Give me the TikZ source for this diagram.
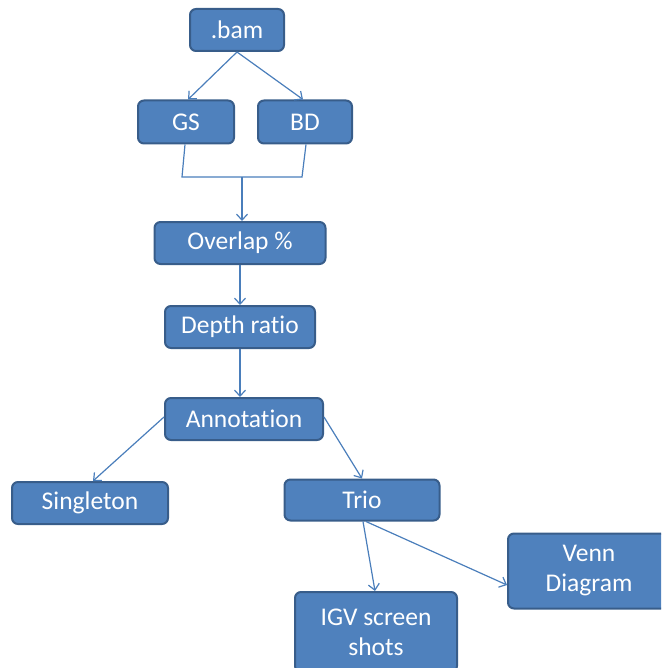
\documentclass[tikz,border=0pt]{standalone}
\usepackage{fontspec}
\setmainfont[Ligatures=NoCommon]{Carlito}
\usetikzlibrary{arrows.meta}
\definecolor{boxfill}{HTML}{4F81BD}
\definecolor{boxdraw}{HTML}{385D8A}
\definecolor{arrcol}{HTML}{4A7EBB}
\tikzset{
  box/.style={draw=boxdraw, line width=2pt, fill=boxfill, rounded corners=6pt,
    text=white, align=center, inner sep=0pt,
    font=\fontsize{25.5}{30}\selectfont},
  arr/.style={draw=arrcol, line width=1.2pt, -{Straight Barb[length=6pt,width=11pt,line width=1.2pt]}},
  ln/.style={draw=arrcol, line width=1.2pt}
}
\begin{document}
\begin{tikzpicture}[x=1pt,y=-1pt]
\useasboundingbox (0,0) rectangle (661,668);
\clip (0,0) rectangle (661,668);
\node[box, minimum width=94pt, minimum height=42pt] (bam) at (237,30) {.bam};
\node[box, minimum width=96pt, minimum height=43pt] (gs) at (186,122) {GS};
\node[box, minimum width=94pt, minimum height=43pt] (bd) at (305,122) {BD};
\node[box, minimum width=171pt, minimum height=42pt] (ov) at (240,243) {Overlap \%};
\node[box, minimum width=150pt, minimum height=42pt] (dr) at (240,327) {Depth ratio};
\node[box, minimum width=158pt, minimum height=42pt] (an) at (244,419) {Annotation};
\node[box, minimum width=156pt, minimum height=42pt] (sg) at (90,503) {Singleton};
\node[box, minimum width=155pt, minimum height=41pt] (tr) at (362,500) {Trio};
\node[box, minimum width=162pt, minimum height=75pt] (vn) at (589,571) {Venn\\Diagram};
\node[box, minimum width=162pt, minimum height=80pt] (igv) at (376,632) {IGV screen\\shots};
\coordinate (m1) at (182,177);
\coordinate (m2) at (302,177);
\coordinate (mid) at (242,177);
\draw[arr] (bam.south) -- ([xshift=2pt]gs.north);
\draw[arr] (bam.south) -- ([xshift=-2pt]bd.north);
\draw[ln] ([xshift=-1pt]gs.south) -- (m1) -- (m2) -- ([xshift=1pt]bd.south);
\draw[arr] (mid) -- (mid |- ov.north);
\draw[arr] (ov.south) -- (dr.north);
\draw[arr] (dr.south) -- (dr.south |- an.north);
\draw[arr] ([yshift=2pt]an.west) -- ([xshift=3pt]sg.north);
\draw[arr] ([yshift=2pt]an.east) -- (tr.north);
\draw[arr] ([xshift=1pt]tr.south) -- ([xshift=-1pt]igv.north);
\draw[arr] ([xshift=4pt]tr.south) -- ([yshift=-14pt]vn.west);
\end{tikzpicture}
\end{document}
